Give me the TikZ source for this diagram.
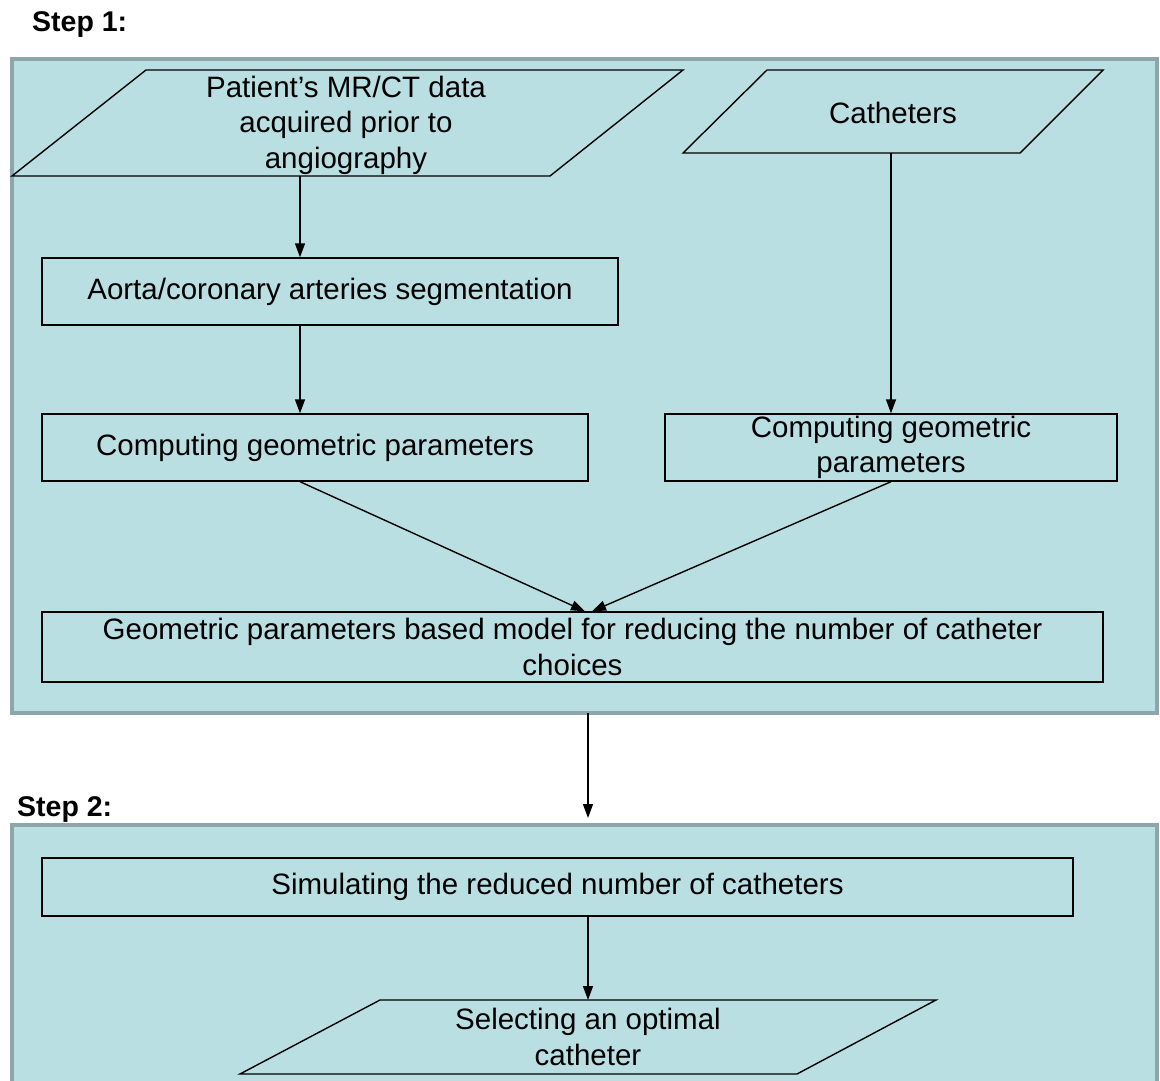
\documentclass[tikz,border=0pt]{standalone}
\usepackage{fontspec}
\setmainfont{Liberation Sans}
\usetikzlibrary{arrows.meta}
\definecolor{panelfill}{RGB}{185,223,226}
\definecolor{panelborder}{RGB}{141,166,169}
\tikzset{
  panel/.style={draw=panelborder, line width=4pt, fill=panelfill},
  box/.style={draw=black, line width=1.4pt, rectangle, inner sep=0pt, align=center,
    font=\fontsize{29.5}{35.5}\selectfont},
  io/.style={draw=black, line width=1.4pt, line join=miter},
  iotext/.style={inner sep=0pt, align=center, font=\fontsize{29.5}{35.5}\selectfont},
  arr/.style={line width=1.4pt, -{Triangle[length=14pt,width=10pt]}},
  steplabel/.style={anchor=base west, inner sep=0pt, font=\fontsize{28.5}{32}\selectfont\bfseries}
}
\begin{document}
\begin{tikzpicture}[x=1pt,y=-1pt]
\clip (0,0) rectangle (1160,1081);
\fill[white] (0,0) rectangle (1160,1081);

% panels
\draw[panel] (12,59) rectangle (1157,713);
\draw[panel] (12,825) rectangle (1157,1100);
\coordinate (p1out) at (588,713);
\coordinate (p2in) at (588,818);

\node[steplabel] (s1) at (32,32) {Step 1:};
\node[steplabel] (s2) at (17,816) {Step 2:};

% parallelograms
\draw[io] (146,70) -- (683,70) -- (550,176) -- (12,176) -- cycle;
\node[iotext] (patient) at (346,125) {Patient's MR/CT data\\acquired prior to\\angiography};
\coordinate (patientout) at (300,176);

\draw[io] (767,70) -- (1103,70) -- (1020,153) -- (683,153) -- cycle;
\node[iotext] (cath) at (893,113) {Catheters};
\coordinate (cathout) at (891,153);

% rectangles
\node[box, minimum width=576pt, minimum height=67pt] (aorta) at (330,291.5) {Aorta/coronary arteries segmentation};
\node[box, minimum width=546pt, minimum height=67pt] (compL) at (315,447.5) {Computing geometric parameters};
\node[box, minimum width=452pt, minimum height=67pt] (compR) at (891,447.5) {Computing geometric\\parameters};
\node[box, minimum width=1061pt, minimum height=70pt] (model) at (572.5,647) {Geometric parameters based model for reducing the number of catheter\\choices};
\node[box, minimum width=1031pt, minimum height=58pt] (sim) at (557.5,887) {Simulating the reduced number of catheters};

\draw[io] (380,1000) -- (936,1000) -- (797,1074) -- (240,1074) -- cycle;
\node[iotext] (select) at (588,1037) {Selecting an optimal\\catheter};
\coordinate (selectin) at (588,1000);

% connectors
\draw[arr] (patientout) -- (aorta.north -| patientout);
\draw[arr] (aorta.south -| patientout) -- (compL.north -| patientout);
\draw[arr] (cathout) -- (compR.north -| cathout);
\draw[arr] (compL.south -| patientout) -- ([xshift=12.5pt]model.north);
\draw[arr] (compR.south) -- ([xshift=19.5pt]model.north);
\draw[arr] (p1out) -- (p2in);
\draw[arr] (sim.south -| selectin) -- (selectin);
\end{tikzpicture}
\end{document}
